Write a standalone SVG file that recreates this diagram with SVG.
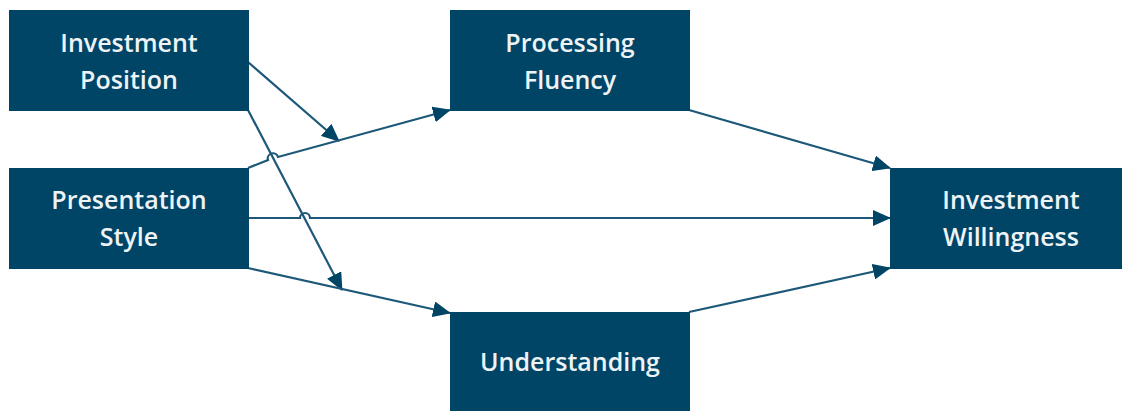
<svg xmlns="http://www.w3.org/2000/svg" width="1122" height="411" viewBox="0 0 1122 411">
<style>
.box{fill:#004466;}
.lbl{fill:#eef3f6;font-family:"Open Sans","Noto Sans",sans-serif;font-size:25px;font-weight:600;text-anchor:middle;}
.con{fill:none;stroke:#1d5878;stroke-width:2.2;marker-end:url(#ah);}
</style>
<defs>
<marker id="ah" markerUnits="userSpaceOnUse" markerWidth="18" markerHeight="16" viewBox="0 0 18 16" refX="17" refY="8" orient="auto">
<path d="M0,0 L18,8 L0,16 Z" fill="#004466"/>
</marker>
</defs>
<rect width="1122" height="411" fill="#ffffff"/>
<g id="connectors">
<path class="con" d="M248,62 L339,141"/>
<path class="con" d="M248,110 L342,290"/>
<path class="con" d="M248,168 Q258,164 268,160 A5,5 0 0 1 278,157 L450,110"/>
<path class="con" d="M248,218 L300,218 A5,5 0 0 1 310,218 L890,218"/>
<path class="con" d="M248,268 L450,313"/>
<path class="con" d="M689,110 L890,168"/>
<path class="con" d="M689,312 L890,268"/>
</g>
<g id="investment-position">
<rect class="box" x="9" y="10" width="240" height="101"/>
<text class="lbl" x="129" y="52">Investment</text>
<text class="lbl" x="129" y="89">Position</text>
</g>
<g id="presentation-style">
<rect class="box" x="9" y="168" width="240" height="101"/>
<text class="lbl" x="129" y="209">Presentation</text>
<text class="lbl" x="129" y="246">Style</text>
</g>
<g id="processing-fluency">
<rect class="box" x="450" y="10" width="240" height="101"/>
<text class="lbl" x="570" y="52">Processing</text>
<text class="lbl" x="570" y="89">Fluency</text>
</g>
<g id="investment-willingness">
<rect class="box" x="890" y="168" width="232" height="101"/>
<text class="lbl" x="1011" y="209">Investment</text>
<text class="lbl" x="1011" y="246">Willingness</text>
</g>
<g id="understanding">
<rect class="box" x="450" y="312" width="240" height="99"/>
<text class="lbl" x="570" y="371">Understanding</text>
</g>
</svg>
